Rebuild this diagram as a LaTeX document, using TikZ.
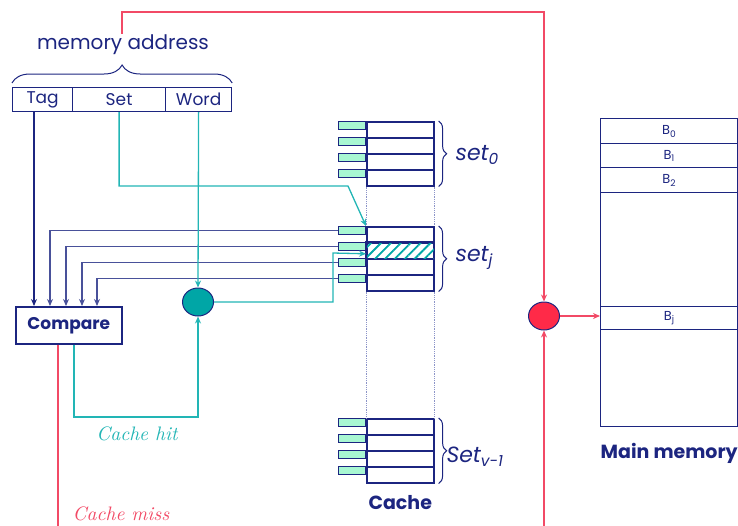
\documentclass[tikz,border=0pt]{standalone}
\usepackage{fontspec}
\setmainfont{Poppins}
\newfontfamily\lmitfont{lmroman10-italic.otf}
\usepackage{tikz}
\usetikzlibrary{shapes.geometric, arrows.meta, positioning, calc, decorations.pathreplacing, patterns.meta}
\definecolor{navy}{HTML}{1C2580}
\definecolor{hitcyan}{HTML}{22B5B5}
\definecolor{selteal}{HTML}{00A6A6}
\definecolor{missred}{HTML}{F24A66}
\definecolor{selred}{HTML}{FF2A48}
\definecolor{tagmint}{HTML}{A8F7D2}
\definecolor{dotblue}{HTML}{8C94C8}

\begin{document}
\begin{tikzpicture}[
    x=1pt, y=-1pt,
    field/.style={rectangle, draw=navy, line width=1.2pt, anchor=north west, minimum height=24pt, inner sep=0pt, text=navy, font=\fontsize{17}{17}\selectfont},
    cacheline/.style={rectangle, draw=navy, line width=1.6pt, anchor=north west, minimum width=67pt, minimum height=16pt, inner sep=0pt},
    tagbox/.style={rectangle, draw=navy, fill=tagmint, line width=0.8pt, anchor=north east, minimum width=27pt, minimum height=8pt, inner sep=0pt},
    memrow/.style={rectangle, draw=navy, line width=1.4pt, anchor=north west, minimum width=137pt, inner sep=0pt, text=navy, font=\fontsize{13}{13}\selectfont},
    sel/.style={ellipse, draw=navy, line width=1pt, minimum width=31pt, minimum height=28pt, inner sep=0pt},
    setlabel/.style={anchor=west, text=navy, font=\fontsize{22}{22}\selectfont\itshape},
    title/.style={text=navy, font=\fontsize{19}{19}\selectfont\bfseries},
    curly/.style={decorate, decoration={brace, amplitude=#1}, draw=navy, line width=1pt},
    tagarr/.style={-{Stealth[length=7pt, width=6pt]}, navy, line width=1.3pt},
    hitarr/.style={-{Stealth[length=7pt, width=6pt]}, hitcyan, line width=1.3pt},
    missarr/.style={-{Stealth[length=7pt, width=6pt]}, missred, line width=1.3pt},
    dotline/.style={dotblue, densely dotted, line width=0.8pt},
]
    \useasboundingbox (0,0) rectangle (738,525);

    % Memory address
    \node[text=navy, font=\fontsize{20}{20}\selectfont, inner sep=1pt] (addrlbl) at (123,45) {memory address};
    \node[field, minimum width=60pt] (tagf) at (12,87) {Tag};
    \node[field, minimum width=93pt] (setf) at (72,87) {Set};
    \node[field, minimum width=66pt] (wordf) at (165,87) {Word};
    \draw[curly=18pt] ([yshift=4pt]tagf.north west) -- ([yshift=4pt]wordf.north east);

    % Cache sets
    \foreach \s/\ytop in {0/121, j/226, v/418} {
        \foreach \i in {0,...,3} {
            \node[cacheline] (c\s r\i) at (366,{\ytop+16*\i}) {};
            \node[tagbox] (c\s t\i) at (366,{\ytop+16*\i}) {};
        }
        \draw[curly=8pt] ([xshift=4pt]c\s r0.north east) -- ([xshift=4pt]c\s r3.south east);
    }
    \fill[pattern={Lines[angle=45, distance=7pt, line width=1.8pt]}, pattern color=selteal] (cjr1.north west) rectangle (cjr1.south east);
    \draw[navy, line width=1.6pt] (cjr1.north west) rectangle (cjr1.south east);
    \draw[dotline] (c0r3.south west) -- (cjr0.north west);
    \draw[dotline] (c0r3.south east) -- (cjr0.north east);
    \draw[dotline] (cjr3.south west) -- (cvr0.north west);
    \draw[dotline] (cjr3.south east) -- (cvr0.north east);
    \node[setlabel] (set0lbl) at (452,155) {set\textsubscript{0}};
    \node[setlabel] (setjlbl) at (452,258) {set\textsubscript{j}};
    \node[setlabel] (setvlbl) at (443,457) {Set\textsubscript{v-1}};
    \node[title, below=8pt of cvr3] (cachelbl) {Cache};

    % Main memory
    \node[memrow, minimum height=308pt] (mainmem) at (600,118) {};
    \node[memrow, minimum height=25pt] (b0) at (600,118) {B\textsubscript{0}};
    \node[memrow, minimum height=24pt] (b1) at (600,143) {B\textsubscript{1}};
    \node[memrow, minimum height=25pt] (b2) at (600,167) {B\textsubscript{2}};
    \node[memrow, minimum height=23pt] (bj) at (600,306) {B\textsubscript{j}};
    \node[title, below=12pt of mainmem] (memlbl) {Main memory};

    % Compare and selectors
    \node[rectangle, draw=navy, line width=1.6pt, anchor=north west, minimum width=106pt, minimum height=37pt, text=navy, font=\fontsize{17}{17}\selectfont\bfseries] (compare) at (15,306) {Compare};
    \node[sel, fill=selteal] (wordsel) at (198,302) {};
    \node[sel, fill=selred] (memsel) at (544,316) {};

    % Tag connectors
    \draw[tagarr] ([xshift=22pt]tagf.south west) -- ([xshift=19pt]compare.north west);
    \foreach \i/\dx in {0/35, 1/51, 2/67, 3/82}
        \draw[tagarr, navy!80] (cjt\i.west) -| ([xshift=\dx pt]compare.north west);

    % Hit path
    \coordinate (setbend) at (348,186);
    \coordinate (seljog) at (333,253);
    \coordinate (hitturn) at (74,417);
    \draw[hitarr] (setf.south) |- (setbend) -- (cjr0.north west);
    \draw[hitarr] (wordf.south) -- (wordsel.north);
    \draw[hitarr] (wordsel.east) -| (seljog) -- ([yshift=-3pt]cjr1.west);
    \draw[hitarr] ([xshift=59pt]compare.south west) -- (hitturn) -| (wordsel.south);
    \node[text=hitcyan, font=\fontsize{19.5}{19.5}\lmitfont] (hitlbl) at (137,434) {Cache hit};

    % Miss path
    \coordinate (topturn) at (122,12);
    \coordinate (missin) at (544,530);
    \coordinate (missend) at (58,530);
    \draw[missarr] (addrlbl.north -| topturn) -- (topturn) -| (memsel.north);
    \draw[missarr] (missin) -- (memsel.south);
    \draw[missarr] (memsel.east) -- (memsel.east -| bj.west);
    \draw[missred, line width=1.3pt] ([xshift=43pt]compare.south west) -- (missend);
    \node[text=missred, font=\fontsize{19.5}{19.5}\lmitfont] (misslbl) at (121,514) {Cache miss};
\end{tikzpicture}
\end{document}
